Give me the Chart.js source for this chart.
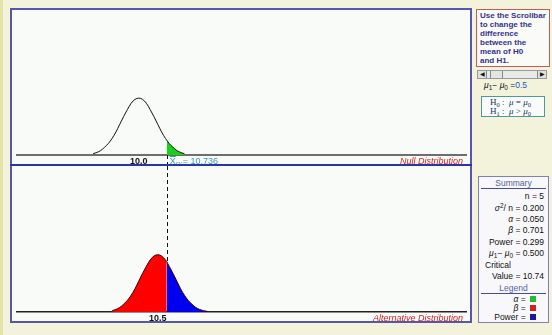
<!DOCTYPE html>
<html>
<head>
<meta charset="utf-8">
<script src="https://cdn.jsdelivr.net/npm/chart.js@4.4.1/dist/chart.umd.min.js"></script>
<style>
body { margin:0; width:552px; height:335px; background:#f3f3dc; position:relative; overflow:hidden;
  font-family:"Liberation Sans", Arial, sans-serif; font-size:8.5px; color:#111; }
.abs { position:absolute; box-sizing:border-box; }
#strip { left:0; top:0; width:3px; height:335px; background:#e4e4a8; }
#panel { left:10px; top:8px; width:462px; height:315px; border:2px solid #5656aa; background:#f8fbf8; }
#divider { left:10px; top:164px; width:462px; height:2px; background:#2a35a8; }
canvas { position:absolute; }
#info { left:476px; top:9px; width:74px; height:58px; border:1px solid #c45a5a; background:#fafaf6;
  color:#34348c; font-weight:bold; font-size:8px; line-height:8.9px; padding:2px 3px; white-space:nowrap; }
#scroll { left:477px; top:70px; width:70px; height:9px; border:1px solid #999; background:#e9e9e9; }
.btn { position:absolute; top:0; width:8px; height:7px; background:#e0e0e0; border-right:1px solid #888; font-size:6px; line-height:7px; text-align:center; }
#mu { left:484px; top:80px; white-space:nowrap; }
#hyp { left:481px; top:96px; width:64px; height:21px; border:1px solid #4d9a9a; background:#f8fbfa;
  font-family:"Liberation Serif", serif; font-size:9px; color:#223366; line-height:9px; padding:1px 0 0 8px; white-space:nowrap; }
#summary { left:478px; top:176px; width:71px; height:147px; border:1px solid #8080b8; background:#f8f8fb; }
.row { position:absolute; right:4px; white-space:nowrap; line-height:10px; }
.head { position:absolute; left:0; width:100%; text-align:center; color:#56639a; line-height:10px; }
.rule { position:absolute; left:2px; width:65px; height:1px; background:#4a4aa0; }
.sq { display:inline-block; width:6px; height:6px; margin-left:2px; vertical-align:0; }
sub { font-size:6.5px; vertical-align:baseline; position:relative; top:2px; }
sup { font-size:6.5px; vertical-align:baseline; position:relative; top:-3px; }
</style>
</head>
<body>
<div class="abs" id="strip"></div>
<div class="abs" id="panel"></div>
<canvas id="nullChart" width="461" height="157" style="left:10px;top:8px"></canvas>
<canvas id="altChart" width="461" height="156" style="left:10px;top:166px"></canvas>
<div class="abs" id="divider"></div>

<div class="abs" id="info">Use the Scrollbar<br>to change the<br>difference<br>between the<br>mean of H0<br>and H1.</div>
<div class="abs" id="scroll">
  <div class="btn" style="left:0">&#9664;</div>
  <div class="btn" style="left:12px;width:11px;border-left:1px solid #888;background:#e4e4e4"></div>
  <div class="btn" style="right:0;border-right:none;border-left:1px solid #888">&#9654;</div>
</div>
<div class="abs" id="mu"><i>μ</i><sub>1</sub>− <i>μ</i><sub>0</sub> =<span style="color:#2255cc">0.5</span></div>
<div class="abs" id="hyp">H<sub>0</sub> :&nbsp; <i>μ</i> = <i>μ</i><sub>0</sub><br>H<sub>1</sub> :&nbsp; <i>μ</i> &gt; <i>μ</i><sub>0</sub></div>

<div class="abs" id="summary">
  <div class="head" style="top:1px">Summary</div>
  <div class="rule" style="top:11px"></div>
  <div class="row" style="top:14px">n = 5</div>
  <div class="row" style="top:26px"><i>σ</i><sup>2</sup>/ n = 0.200</div>
  <div class="row" style="top:37px"><i>α</i> = 0.050</div>
  <div class="row" style="top:48px"><i>β</i> = 0.701</div>
  <div class="row" style="top:60px">Power = 0.299</div>
  <div class="row" style="top:71px"><i>μ</i><sub>1</sub>− <i>μ</i><sub>0</sub> = 0.500</div>
  <div class="row" style="top:83px;right:auto;left:6px">Critical</div>
  <div class="row" style="top:94px">Value = 10.74</div>
  <div class="head" style="top:106px">Legend</div>
  <div class="rule" style="top:116px"></div>
  <div class="row" style="top:117px;right:12px"><i>α</i> = <span class="sq" style="background:#22bb33"></span></div>
  <div class="row" style="top:126px;right:12px"><i>β</i> = <span class="sq" style="background:#cc2222"></span></div>
  <div class="row" style="top:135px;right:12px">Power = <span class="sq" style="background:#1a1aa0"></span></div>
</div>

<script>
// values
const criticalValue = 10.736;
const xRange = [6.8, 18.6];
const nullTick = [10];
const altTick = [10.5];

const nullX = [8.8, 8.9, 9.0, 9.1, 9.2, 9.3, 9.4, 9.5, 9.6, 9.7, 9.8, 9.9, 10.0,
               10.1, 10.2, 10.3, 10.4, 10.5, 10.6, 10.7, 10.736, 10.8, 10.9, 11.0, 11.1, 11.2];
const nullY = [0.02, 0.04, 0.07, 0.12, 0.18, 0.26, 0.36, 0.48, 0.60, 0.71, 0.81, 0.87, 0.89,
               0.87, 0.81, 0.71, 0.60, 0.48, 0.36, 0.26, 0.23, 0.18, 0.12, 0.07, 0.04, 0.02];

const altX = [9.3, 9.4, 9.5, 9.6, 9.7, 9.8, 9.9, 10.0, 10.1, 10.2, 10.3, 10.4, 10.5,
              10.6, 10.7, 10.736, 10.8, 10.9, 11.0, 11.1, 11.2, 11.3, 11.4, 11.5, 11.6, 11.7, 11.8];
const altY = [0.02, 0.04, 0.07, 0.12, 0.18, 0.26, 0.36, 0.48, 0.60, 0.71, 0.81, 0.87, 0.89,
              0.87, 0.81, 0.78, 0.71, 0.60, 0.48, 0.36, 0.26, 0.18, 0.12, 0.07, 0.04, 0.02, 0.01];

const pts = (xs, ys, keep) => xs.map((x, i) => ({ x: x, y: ys[i] })).filter(p => keep(p.x));

const critLine = {
  id: 'critLine',
  beforeDatasetsDraw(chart, args, opts) {
    const ctx = chart.ctx;
    const x = Math.round(chart.scales.x.getPixelForValue(criticalValue)) + 0.5;
    const area = chart.chartArea;
    const y0 = opts.below ? area.bottom : 0;
    const y1 = opts.below ? chart.height : area.bottom;
    ctx.save();
    ctx.strokeStyle = '#111';
    ctx.lineWidth = 1;
    ctx.setLineDash([4, 3]);
    ctx.beginPath();
    ctx.moveTo(x, y0);
    ctx.lineTo(x, y1);
    ctx.stroke();
    ctx.restore();
  }
};

const captions = {
  id: 'captions',
  afterDraw(chart, args, opts) {
    const ctx = chart.ctx;
    const base = chart.chartArea.bottom + 9;
    ctx.save();
    ctx.font = 'italic 9px "Liberation Sans", Arial, sans-serif';
    ctx.fillStyle = '#d42020';
    ctx.textAlign = 'right';
    ctx.fillText(opts.name, chart.width - 8, base);
    if (opts.showCrit) {
      let x = chart.scales.x.getPixelForValue(criticalValue) + 3;
      ctx.textAlign = 'left';
      ctx.fillStyle = '#3a98b0';
      ctx.font = '9px "Liberation Sans", Arial, sans-serif';
      ctx.fillText('X', x, base);
      const w = ctx.measureText('X').width;
      ctx.fillRect(x, base - 8, w, 1);
      x += w;
      ctx.font = '6px "Liberation Sans", Arial, sans-serif';
      ctx.fillText('cv', x, base + 1);
      x += ctx.measureText('cv').width + 1;
      ctx.font = '9px "Liberation Sans", Arial, sans-serif';
      ctx.fillText('= ' + criticalValue.toFixed(3), x, base);
    }
    ctx.restore();
  }
};

function axes(ticks, border) {
  return {
    x: {
      type: 'linear', min: xRange[0], max: xRange[1],
      grid: { display: false, drawTicks: false },
      border: { color: border.color, width: border.width },
      afterBuildTicks: s => { s.ticks = ticks.map(v => ({ value: v })); },
      afterFit: s => { s.height = 10; },
      ticks: { padding: 1, color: '#111', font: { size: 9, weight: 'bold', family: '"Liberation Sans", Arial' },
               autoSkip: false, maxRotation: 0, callback: v => Number(v).toFixed(1) }
    },
    y: { display: false, min: 0, max: 2.144 }
  };
}

Chart.defaults.animation = false;

new Chart(document.getElementById('nullChart'), {
  type: 'line',
  data: {
    datasets: [
      { data: pts(nullX, nullY, () => true), borderColor: '#111', borderWidth: 1, pointRadius: 0,
        fill: false, cubicInterpolationMode: 'monotone' },
      { data: pts(nullX, nullY, x => x >= criticalValue), borderWidth: 0, pointRadius: 0,
        backgroundColor: '#14d414', fill: 'origin', cubicInterpolationMode: 'monotone' }
    ]
  },
  options: {
    responsive: false,
    layout: { padding: { left: 7, right: 5, top: 10, bottom: 0 } },
    scales: axes(nullTick, { color: '#6e6e6e', width: 2 }),
    plugins: { legend: { display: false }, tooltip: { enabled: false },
      critLine: { below: true }, captions: { name: 'Null Distribution', showCrit: true } }
  },
  plugins: [critLine, captions]
});

new Chart(document.getElementById('altChart'), {
  type: 'line',
  data: {
    datasets: [
      { data: pts(altX, altY, () => true), borderColor: '#300', borderWidth: 1, pointRadius: 0,
        fill: false, cubicInterpolationMode: 'monotone' },
      { data: pts(altX, altY, x => x <= criticalValue), borderWidth: 0, pointRadius: 0,
        backgroundColor: '#ff0000', fill: 'origin', cubicInterpolationMode: 'monotone' },
      { data: pts(altX, altY, x => x >= criticalValue), borderWidth: 0, pointRadius: 0,
        backgroundColor: '#0000f0', fill: 'origin', cubicInterpolationMode: 'monotone' }
    ]
  },
  options: {
    responsive: false,
    layout: { padding: { left: 7, right: 5, top: 8, bottom: 0 } },
    scales: axes(altTick, { color: '#222', width: 1.5 }),
    plugins: { legend: { display: false }, tooltip: { enabled: false },
      critLine: { below: false }, captions: { name: 'Alternative Distribution', showCrit: false } }
  },
  plugins: [critLine, captions]
});
</script>
</body>
</html>
